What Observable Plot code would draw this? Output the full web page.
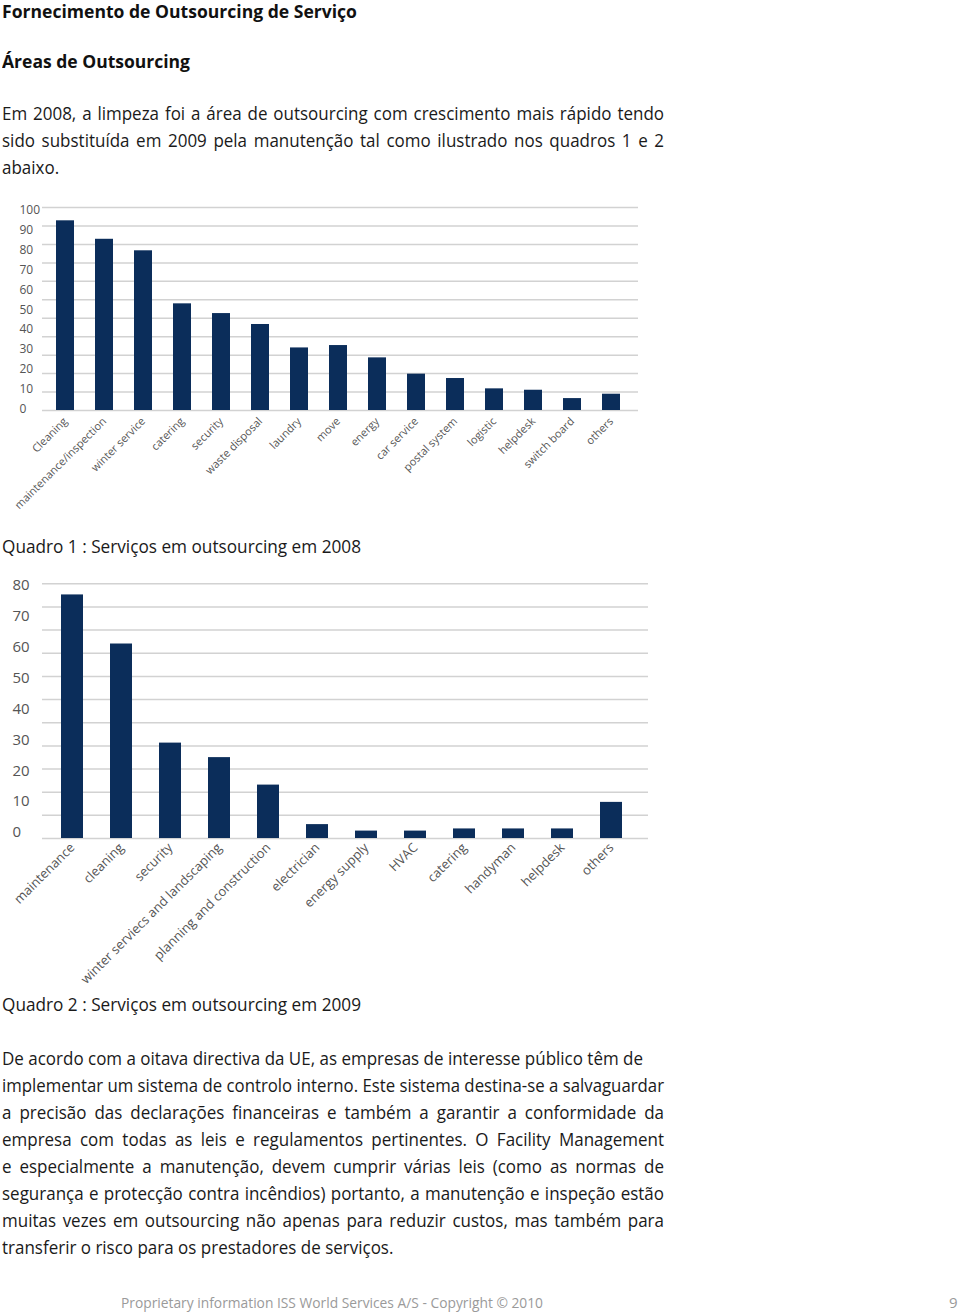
<!DOCTYPE html>
<html>
<head>
<meta charset="utf-8">
<script src="https://cdn.jsdelivr.net/npm/d3@7"></script>
<script src="https://cdn.jsdelivr.net/npm/@observablehq/plot@0.6"></script>
<style>
  html, body { margin: 0; padding: 0; background: #fff; }
  body { position: relative; width: 960px; height: 1315px; overflow: hidden; font-family: "Open Sans", sans-serif; color: #1a1a1a; }
  .t { position: absolute; left: 2px; white-space: nowrap; transform-origin: 0 0; line-height: 1; }
  .h { font-weight: 700; font-size: 17.5px; color: #111; }
  .b { font-size: 18px; }
  .chart { position: absolute; left: 0; }
  .foot { color: #9a9a9a; font-size: 15px; }
</style>
</head>
<body>
<div class="t h" data-w="355" style="top:3px">Fornecimento de Outsourcing de Serviço</div>
<div class="t h" data-w="188" style="top:53px">Áreas de Outsourcing</div>

<div class="t b p j" style="top:104px">Em 2008, a limpeza foi a área de outsourcing com crescimento mais rápido tendo</div>
<div class="t b p j" style="top:131px">sido substituída em 2009 pela manutenção tal como ilustrado nos quadros 1 e 2</div>
<div class="t b p" style="top:158px">abaixo.</div>

<div class="chart" id="chart1" style="top:195px"></div>
<div class="t b" data-w="359" style="top:537px">Quadro 1 : Serviços em outsourcing em 2008</div>
<div class="chart" id="chart2" style="top:570px"></div>
<div class="t b" data-w="359" style="top:995px">Quadro 2 : Serviços em outsourcing em 2009</div>

<div class="t b p" id="ref" style="top:1049px">De acordo com a oitava directiva da UE, as empresas de interesse público têm de</div>
<div class="t b p j" style="top:1076px">implementar um sistema de controlo interno. Este sistema destina-se a salvaguardar</div>
<div class="t b p j" style="top:1103px">a precisão das declarações financeiras e também a garantir a conformidade da</div>
<div class="t b p j" style="top:1130px">empresa com todas as leis e regulamentos pertinentes. O Facility Management</div>
<div class="t b p j" style="top:1157px">e especialmente a manutenção, devem cumprir várias leis (como as normas de</div>
<div class="t b p j" style="top:1184px">segurança e protecção contra incêndios) portanto, a manutenção e inspeção estão</div>
<div class="t b p j" style="top:1211px">muitas vezes em outsourcing não apenas para reduzir custos, mas também para</div>
<div class="t b p" style="top:1238px">transferir o risco para os prestadores de serviços.</div>

<div class="t foot" data-w="422" style="left:121px; top:1295px">Proprietary information ISS World Services A/S - Copyright © 2010</div>
<div class="t foot" style="left:949px; top:1295px">9</div>

<script>
// ---- Data: Quadro 1 (2008) ----
const categories2008 = ["Cleaning", "maintenance/inspection", "winter service", "catering", "security", "waste disposal", "laundry", "move", "energy", "car service", "postal system", "logistic", "helpdesk", "switch board", "others"];
const values2008 = [95.5, 86.2, 80.4, 53.7, 48.8, 43.3, 31.5, 32.7, 26.5, 18.3, 16.1, 10.9, 10.2, 6.0, 8.2];
const yTicks2008 = [0, 10, 20, 30, 40, 50, 60, 70, 80, 90, 100];

// ---- Data: Quadro 2 (2009) ----
const categories2009 = ["maintenance", "cleaning", "security", "winter serviecs and landscaping", "planning and construction", "electrician", "energy supply", "HVAC", "catering", "handyman", "helpdesk", "others"];
const values2009 = [78.9, 63.0, 30.9, 26.2, 17.3, 4.5, 2.4, 2.4, 3.1, 3.1, 3.1, 11.7];
const yTicks2009 = [0, 10, 20, 30, 40, 50, 60, 70, 80];

const barColor = "#0b2d5a";
const gridColor = "#d2d2d2";
const textColor = "#555";

const data2008 = categories2008.map((c, i) => ({category: c, value: values2008[i]}));
const data2009 = categories2009.map((c, i) => ({category: c, value: values2009[i]}));

const chart1 = Plot.plot({
  width: 960, height: 320,
  marginTop: 12, marginBottom: 105, marginLeft: 42, marginRight: 322,
  style: {fontFamily: "Open Sans, sans-serif", color: textColor, background: "transparent"},
  x: {domain: categories2008, paddingInner: 0.54, paddingOuter: 0.27, insetLeft: 2, insetRight: 6, label: null},
  y: {domain: [0, 102.2], label: null},
  marks: [
    Plot.gridY(d3.range(0, 102.25, 9.29), {stroke: gridColor, strokeOpacity: 1, strokeWidth: 1.5}),
    Plot.barY(data2008, {x: "category", y: "value", fill: barColor}),
    Plot.axisY(yTicks2008, {tickSize: 0, tickPadding: 0, textAnchor: "start", dx: -23, dy: -1.5, fontSize: 12, label: null}),
    Plot.axisX({tickSize: 0, tickPadding: 9, tickRotate: -45, fontSize: 11, label: null})
  ]
});
document.getElementById("chart1").appendChild(chart1);

const chart2 = Plot.plot({
  width: 960, height: 432,
  marginTop: 13, marginBottom: 164, marginLeft: 42, marginRight: 312,
  style: {fontFamily: "Open Sans, sans-serif", color: textColor, background: "transparent"},
  x: {domain: categories2009, paddingInner: 0.56, paddingOuter: 0.28, insetLeft: 2, insetRight: 10, label: null},
  y: {domain: [0, 82.6], label: null},
  marks: [
    Plot.gridY(d3.range(0, 82.55, 7.5), {stroke: gridColor, strokeOpacity: 1, strokeWidth: 1.5}),
    Plot.barY(data2009, {x: "category", y: "value", fill: barColor}),
    Plot.axisY(yTicks2009, {tickSize: 0, tickPadding: 0, textAnchor: "start", dx: -30, dy: -6, fontSize: 15, label: null}),
    Plot.axisX({tickSize: 0, tickPadding: 7, tickRotate: -45, fontSize: 13, label: null})
  ]
});
document.getElementById("chart2").appendChild(chart2);

// ---- Fit text widths to the page layout ----
function fitText() {
  const ref = document.getElementById("ref");
  ref.style.display = "inline-block";
  const s = 641 / ref.getBoundingClientRect().width;
  const target = 662;
  document.querySelectorAll(".p").forEach(el => {
    if (el.classList.contains("j")) {
      el.style.display = "inline-block";
      const w = el.getBoundingClientRect().width;
      if (w * s >= target) {
        el.style.transform = `scaleX(${target / w})`;
      } else {
        el.style.display = "block";
        el.style.width = (target / s) + "px";
        el.style.textAlign = "justify";
        el.style.textAlignLast = "justify";
        el.style.transform = `scaleX(${s})`;
      }
    } else {
      el.style.transform = `scaleX(${s})`;
    }
  });
  document.querySelectorAll("[data-w]").forEach(el => {
    el.style.display = "inline-block";
    const w = el.getBoundingClientRect().width;
    el.style.transform = `scaleX(${+el.dataset.w / w})`;
  });
}
fitText();
</script>
</body>
</html>
